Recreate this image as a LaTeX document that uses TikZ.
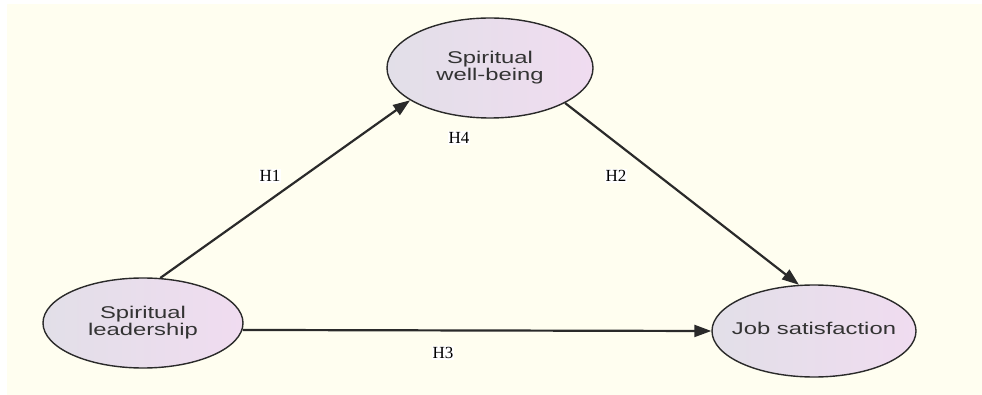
\documentclass[tikz,border=0pt]{standalone}
\usepackage{fontspec}
\setmainfont{Liberation Serif}
\newfontfamily\nodefont[FakeStretch=1.4]{Liberation Sans}
\usetikzlibrary{shapes.geometric,arrows.meta}
\definecolor{cream}{HTML}{FFFEF0}
\definecolor{ellL}{HTML}{E2DFE8}
\definecolor{ellR}{HTML}{F0DCF0}
\definecolor{edge}{HTML}{2A2A2A}
\newcommand{\ntext}[1]{\makebox[0pt][c]{\begin{tabular}{@{}c@{}}#1\end{tabular}}}
\tikzset{
  latent/.style={ellipse, draw=edge, line width=1.4pt, left color=ellL, right color=ellR,
    inner sep=0pt, font=\nodefont\fontsize{17}{16}\selectfont\renewcommand{\arraystretch}{0.95}, text=black!80},
  conn/.style={draw=edge, line width=2.2pt, -{Triangle[length=17pt,width=12pt]}},
  lab/.style={fill=white, inner sep=1pt, font=\fontsize{17}{18}\selectfont}
}
\begin{document}
\begin{tikzpicture}[x=1pt,y=-1pt]
\fill[white] (0,0) rectangle (982,395);
\useasboundingbox (0,0) rectangle (982,395);
\fill[cream] (7,4) rectangle (982,395);

\node[latent, minimum width=206pt, minimum height=100pt] (wb) at (490,68) {\ntext{Spiritual\\well-being}};
\node[latent, minimum width=200pt, minimum height=90pt] (lead) at (143,323) {\ntext{Spiritual\\leadership}};
\node[latent, minimum width=204pt, minimum height=92pt] (js) at (814,331) {\ntext{Job satisfaction}};

\draw[conn] (lead.69.7) -- (wb.202.6);
\draw[conn] (wb.-25.3) -- (js.108.4);
\draw[conn] (lead.-4.6) -- (js.west);

\node[lab] (h1) at (270,176) {H1};
\node[lab] (h2) at (616,176) {H2};
\node[lab] (h3) at (443,353) {H3};
\node[lab] (h4) at (459,138) {H4};
\end{tikzpicture}
\end{document}
